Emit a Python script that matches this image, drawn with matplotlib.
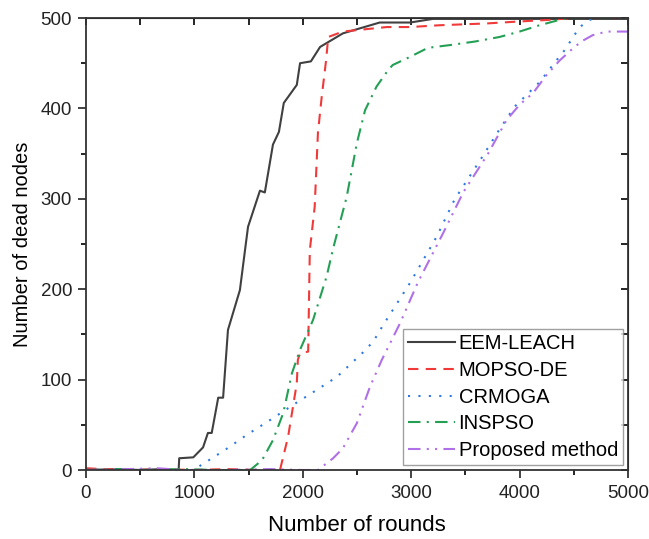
import numpy as np
import matplotlib.pyplot as plt
from matplotlib.ticker import MultipleLocator

plt.rcParams['font.family'] = ['Liberation Sans', 'DejaVu Sans']

# EEM-LEACH
eem_x = [0, 300, 500, 700, 855, 860, 990, 1080, 1125, 1160, 1220, 1265, 1310, 1420, 1467,
         1495, 1605, 1650, 1725, 1780, 1825, 1945, 1975, 2075, 2160, 2370, 2710, 2990, 3200, 5000]
eem_y = [0, 1, 0, 1, 0, 13, 14, 25, 41, 41, 80, 80, 155, 199, 243,
         269, 309, 307, 360, 374, 406, 426, 450, 452, 468, 483, 495, 495, 499, 499]

# MOPSO-DE
mop_x = [0, 150, 400, 700, 1000, 1300, 1600, 1790, 1865, 1945, 1955, 1975, 2050, 2065,
         2110, 2140, 2175, 2215, 2235, 2370, 2775, 2990, 3265, 3700, 3975, 4280, 4500, 5000]
mop_y = [2, 1, 0, 1, 0, 1, 0, 0, 37, 96, 122, 129, 131, 243,
         291, 373, 413, 453, 479, 485, 490, 490, 492, 494, 496, 498, 500, 500]

# CRMOGA
crm_x = [0, 500, 990, 1070, 1280, 1485, 1695, 1910, 2095, 2315, 2555, 2650, 2740, 2990,
         3235, 3400, 3665, 3800, 3955, 4185, 4340, 4420, 4495, 4555, 4650, 4700, 5000]
crm_y = [0, 0, 0, 6, 22, 39, 55, 72, 86, 103, 130, 142, 160, 207,
         258, 299, 348, 374, 402, 429, 453, 465, 479, 490, 498, 500, 500]

# INSPSO
ins_x = [0, 300, 600, 900, 1200, 1515, 1625, 1725, 1820, 1900, 1975, 2095, 2220, 2280, 2405,
         2500, 2575, 2680, 2785, 2830, 2990, 3155, 3355, 3590, 3815, 4000, 4185, 4340, 4450, 5000]
ins_y = [0, 1, 0, 1, 0, 0, 11, 33, 63, 107, 133, 166, 214, 245, 302,
         362, 398, 424, 442, 448, 457, 467, 470, 474, 479, 485, 492, 497, 500, 500]

# Proposed method
pro_x = [0, 400, 650, 900, 1300, 1700, 2000, 2140, 2280, 2370, 2500, 2620, 2730, 2805, 2900,
         3060, 3295, 3480, 3710, 3880, 4000, 4125, 4250, 4370, 4480, 4570, 4675, 4805, 5000]
pro_y = [0, 1, 2, 0, 0, 1, 0, 0, 13, 24, 52, 92, 122, 140, 163,
         207, 262, 307, 350, 387, 404, 417, 437, 453, 465, 474, 481, 485, 485]

fig = plt.figure(figsize=(6.49, 5.39), dpi=100)
ax = fig.add_axes([0.1325, 0.128, 0.835, 0.8386])

lw = 1.5
ax.plot(eem_x, eem_y, color='#404040', lw=lw, label='EEM-LEACH')
ax.plot(mop_x, mop_y, color='#f03a3a', lw=lw, ls=(0, (5, 3.5)), label='MOPSO-DE')
ax.plot(crm_x, crm_y, color='#2f7ae0', lw=lw, ls=(0, (1, 4)), label='CRMOGA')
ax.plot(ins_x, ins_y, color='#24a055', lw=lw, ls=(0, (6, 3, 1, 3)), label='INSPSO')
ax.plot(pro_x, pro_y, color='#b070e8', lw=lw, ls=(0, (6, 3, 1, 3, 1, 3)), label='Proposed method')

ax.set_xlim(0, 5000)
ax.set_ylim(0, 500)
ax.xaxis.set_major_locator(MultipleLocator(1000))
ax.xaxis.set_minor_locator(MultipleLocator(500))
ax.yaxis.set_major_locator(MultipleLocator(100))
ax.yaxis.set_minor_locator(MultipleLocator(50))
ax.tick_params(which='major', direction='out', length=6, width=1.2, labelsize=13.5, colors='#222222')
ax.tick_params(which='minor', direction='out', length=3.5, width=1.2)
ax.tick_params(axis='x', pad=5)
ax.tick_params(axis='y', pad=4)

for side in ['left', 'bottom', 'top', 'right']:
    ax.spines[side].set_linewidth(1.3)
    ax.spines[side].set_color('#333333')

# mirrored ticks on top and right, pointing inward
top = ax.secondary_xaxis('top')
top.xaxis.set_major_locator(MultipleLocator(500))
top.tick_params(direction='in', length=5, width=1.2, labeltop=False)
right = ax.secondary_yaxis('right')
right.yaxis.set_major_locator(MultipleLocator(50))
right.tick_params(direction='in', length=5, width=1.2, labelright=False)

ax.set_xlabel('Number of rounds', fontsize=16, labelpad=9)
ax.set_ylabel('Number of dead nodes', fontsize=14.5, labelpad=6)

leg = ax.legend(loc='lower right', bbox_to_anchor=(0.991, 0.011), borderaxespad=0,
                fontsize=14.5, fancybox=False, edgecolor='#888888', handlelength=2.3,
                handletextpad=0.2, labelspacing=0.38, borderpad=0.25)
leg.get_frame().set_linewidth(1.0)

fig.savefig('out.png', dpi=100)
